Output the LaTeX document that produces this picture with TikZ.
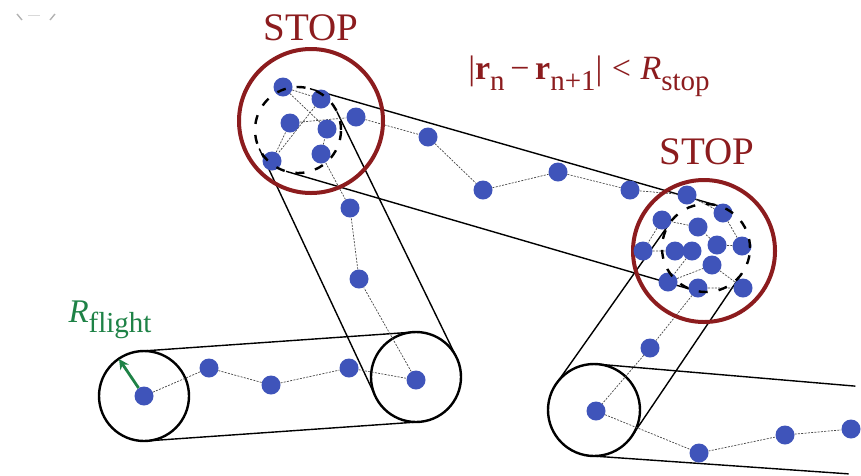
\documentclass[tikz,border=0pt]{standalone}
\usepackage{fontspec}
\setmainfont{Liberation Serif}
\usetikzlibrary{calc,arrows.meta}
\definecolor{dotblue}{RGB}{63,84,186}
\definecolor{stopred}{RGB}{140,28,30}
\definecolor{rgreen}{RGB}{30,130,70}
\pgfdeclarelayer{background}
\pgfsetlayers{background,main}
\newcommand{\lowsub}[1]{\raisebox{-0.32em}{\fontsize{29}{29}\selectfont #1}}
\newcommand{\tubelines}[4]{%
  \draw[tubeline] ($(#1)!#2!90:(#3)$) -- ($(#3)!#4!-90:(#1)$);
  \draw[tubeline] ($(#1)!#2!-90:(#3)$) -- ($(#3)!#4!90:(#1)$);}
\begin{document}
\begin{tikzpicture}[x=1pt,y=-1pt,
  tubeline/.style={line width=1.4pt},
  ring/.style={line width=2.4pt},
  stopring/.style={draw=stopred,line width=4pt},
  dashring/.style={line width=2.4pt,dash pattern=on 9pt off 11pt},
  dot/.style={circle,fill=dotblue,inner sep=0pt,minimum size=19pt},
  walk/.style={gray!55!black,line width=0.7pt,dash pattern=on 2pt off 1.3pt},
  stoplabel/.style={text=stopred,font=\fontsize{39}{40}\selectfont},
  ]
\useasboundingbox (0,0) rectangle (861,475);

% circle centres
\coordinate (A)  at (144,396);
\coordinate (B)  at (416,377);
\coordinate (DL) at (298,130);
\coordinate (DR) at (706,248);
\coordinate (C)  at (594,410);
\coordinate (Cend) at (852,430);
\coordinate (RL) at (311,121);
\coordinate (RR) at (704,251);

% dots
\node[dot] (a1) at (144,396) {};
\node[dot] (a2) at (209,368) {};
\node[dot] (a3) at (271,385) {};
\node[dot] (a4) at (349,368) {};
\node[dot] (a5) at (416,380) {};
\node[dot] (m1) at (359,279) {};
\node[dot] (m2) at (350,208) {};
\node[dot] (c1) at (321,154) {};
\node[dot] (c2) at (327,129) {};
\node[dot] (c3) at (283,87) {};
\node[dot] (c4) at (321,99) {};
\node[dot] (c5) at (272,161) {};
\node[dot] (c6) at (290,123) {};
\node[dot] (c7) at (356,117) {};
\node[dot] (t1) at (428,137) {};
\node[dot] (t2) at (483,190) {};
\node[dot] (t3) at (558,172) {};
\node[dot] (t4) at (630,190) {};
\node[dot] (r1) at (687,195) {};
\node[dot] (r2) at (723,213) {};
\node[dot] (r3) at (662,220) {};
\node[dot] (r4) at (698,227) {};
\node[dot] (r5) at (643,251) {};
\node[dot] (r6) at (675,251) {};
\node[dot] (r7) at (692,251) {};
\node[dot] (r8) at (717,245) {};
\node[dot] (r9) at (742,246) {};
\node[dot] (r10) at (712,265) {};
\node[dot] (r11) at (668,282) {};
\node[dot] (r12) at (698,288) {};
\node[dot] (r13) at (743,288) {};
\node[dot] (d1) at (650,348) {};
\node[dot] (e1) at (596,411) {};
\node[dot] (e2) at (699,453) {};
\node[dot] (e3) at (785,435) {};
\node[dot] (e4) at (851,429) {};

\begin{pgfonlayer}{background}
  % tubes
  \tubelines{A}{45pt}{B}{45pt}
  \tubelines{B}{45pt}{DL}{43pt}
  \tubelines{DL}{43pt}{DR}{44pt}
  \tubelines{DR}{44pt}{C}{46pt}
  \tubelines{C}{46pt}{Cend}{44pt}
  % black circles
  \draw[ring] (A) circle[radius=45pt];
  \draw[ring] (B) circle[radius=45pt];
  \draw[ring] (C) circle[radius=46pt];
  % walk
  \draw[walk] (a1) -- (a2) -- (a3) -- (a4) -- (a5) -- (m1) -- (m2) -- (c1) -- (c2)
     -- (c3) -- (c4) -- (c5) -- (c6) -- (c7) -- (t1) -- (t2) -- (t3) -- (t4)
     -- (r1) -- (r2) -- (r9) -- (r8) -- (r4) -- (r3) -- (r5) -- (r6) -- (r7)
     -- (r11) -- (r10) -- (r13) -- (r12) -- (d1) -- (e1) -- (e2) -- (e3) -- (e4);
  % stop rings
  \draw[stopring] (RL) circle[radius=72pt];
  \draw[stopring] (RR) circle[radius=71pt];
\end{pgfonlayer}

% dashed circles
\draw[dashring] (DL) circle[radius=43pt];
\draw[dashring] (DR) circle[radius=44pt];

% R_flight arrow
\coordinate (rtip) at (119,359);
\draw[rgreen,line width=2.8pt,-{Stealth[length=10pt,width=10pt]}] (a1) -- (rtip);
\node[text=rgreen,font=\fontsize{33}{34}\selectfont,inner sep=0pt] (rflight) at (110,320)
  {\textit{R}\lowsub{flight}};

% labels
\node[stoplabel,inner sep=0pt] (stopL) at (311,28) {STOP};
\node[stoplabel,inner sep=0pt] (stopR) at (707,152) {STOP};
\node[text=stopred,font=\fontsize{34}{36}\selectfont,inner sep=0pt] (cond) at (589,76)
  {|{\bfseries r}\lowsub{n}\,−\,{\bfseries r}\lowsub{n+1}|\;<\;\textit{R}\lowsub{stop}};

% faint corner marks
\draw[gray!60,line width=1.4pt] (17,14) -- (22,20);
\draw[gray!60,line width=1.4pt] (55,14) -- (50,20);
\draw[gray!30,line width=1pt] (28,15) -- (40,15);
\end{tikzpicture}
\end{document}
